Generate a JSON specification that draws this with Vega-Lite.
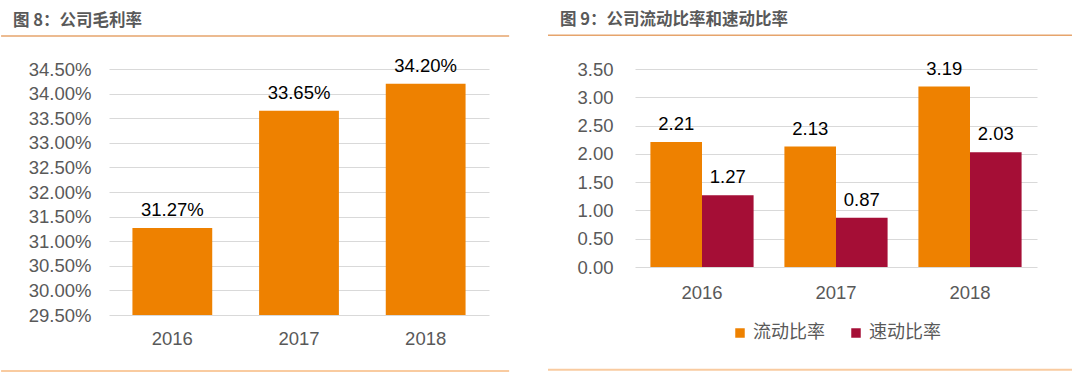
{
  "$schema": "https://vega.github.io/schema/vega-lite/v6.json",
  "background": "white",
  "padding": {"left": 0, "top": 12, "right": 0, "bottom": 0},
  "config": {
    "view": {"stroke": null},
    "axis": {"domain": false, "ticks": false, "grid": false, "labelColor": "#595959", "labelFont": "Liberation Sans", "labelFontSize": 18.5, "labelOverlap": false, "title": null, "gridColor": "#D9D9D9", "gridWidth": 1.2},
    "legend": {"layout": {"bottom": {"anchor": "middle"}}},
    "title": {"font": "Noto Sans CJK SC", "fontSize": 16.5, "fontWeight": "bold", "color": "#595959", "anchor": "start", "frame": "bounds", "dx": 13, "offset": 6},
    "concat": {"spacing": 36}
  },
  "resolve": {"legend": {"color": "independent"}},
  "hconcat": [
    {
      "title": "图 8：公司毛利率",
      "width": 380,
      "height": 246,
      "layer": [
        {
          "data": {"values": [
            {"year": "2016", "margin": 0.3127},
            {"year": "2017", "margin": 0.3365},
            {"year": "2018", "margin": 0.3420}
          ]},
          "encoding": {
            "x": {"field": "year", "type": "nominal", "scale": {"paddingInner": 0.37, "paddingOuter": 0.185}, "axis": {"labelAngle": 0, "labelPadding": 14}},
            "y": {"field": "margin", "type": "quantitative", "scale": {"domain": [0.295, 0.345], "nice": false, "zero": false}, "axis": {"format": ".2%", "grid": true, "values": [0.295, 0.3, 0.305, 0.31, 0.315, 0.32, 0.325, 0.33, 0.335, 0.34, 0.345], "labelPadding": 18}}
          },
          "layer": [
            {"mark": {"type": "bar", "color": "#EE8100"}, "encoding": {"y2": {"datum": 0.295}}},
            {"mark": {"type": "text", "dy": -12, "baseline": "alphabetic", "font": "Liberation Sans", "fontSize": 18.5, "color": "#000000"}, "encoding": {"text": {"field": "margin", "type": "quantitative", "format": ".2%"}}}
          ]
        },
        {
          "data": {"values": [{"line": "top"}]},
          "mark": {"type": "rule", "color": "#E6A46C", "strokeWidth": 1.5},
          "encoding": {
            "x": {"datum": -0.284, "type": "quantitative", "scale": {"domain": [0, 1]}, "axis": null},
            "x2": {"datum": 1.053},
            "y": {"datum": 0.35171, "type": "quantitative", "axis": {"format": ".2%", "grid": true, "values": [0.295, 0.3, 0.305, 0.31, 0.315, 0.32, 0.325, 0.33, 0.335, 0.34, 0.345], "labelPadding": 18}}
          }
        },
        {
          "data": {"values": [{"line": "bottom"}]},
          "mark": {"type": "rule", "color": "#F9CBA0", "strokeWidth": 2},
          "encoding": {
            "x": {"datum": -0.284, "type": "quantitative", "scale": {"domain": [0, 1]}, "axis": null},
            "x2": {"datum": 1.053},
            "y": {"datum": 0.28362, "type": "quantitative", "axis": {"format": ".2%", "grid": true, "values": [0.295, 0.3, 0.305, 0.31, 0.315, 0.32, 0.325, 0.33, 0.335, 0.34, 0.345], "labelPadding": 18}}
          }
        }
      ],
      "resolve": {"scale": {"x": "independent"}, "axis": {"x": "independent"}}
    },
    {
      "title": "图 9：公司流动比率和速动比率",
      "width": 402,
      "height": 198,
      "layer": [
        {
          "data": {"values": [
            {"year": "2016", "type": "流动比率", "value": 2.21},
            {"year": "2016", "type": "速动比率", "value": 1.27},
            {"year": "2017", "type": "流动比率", "value": 2.13},
            {"year": "2017", "type": "速动比率", "value": 0.87},
            {"year": "2018", "type": "流动比率", "value": 3.19},
            {"year": "2018", "type": "速动比率", "value": 2.03}
          ]},
          "encoding": {
            "x": {"field": "year", "type": "nominal", "scale": {"paddingInner": 0.23, "paddingOuter": 0.115}, "axis": {"labelAngle": 0, "labelPadding": 16}},
            "xOffset": {"field": "type", "type": "nominal", "sort": ["流动比率", "速动比率"], "scale": {"paddingInner": 0, "paddingOuter": 0}},
            "y": {"field": "value", "type": "quantitative", "scale": {"domain": [0, 3.5], "nice": false}, "axis": {"format": ".2f", "grid": true, "values": [0, 0.5, 1, 1.5, 2, 2.5, 3, 3.5], "labelPadding": 22}}
          },
          "layer": [
            {
              "mark": {"type": "bar"},
              "encoding": {
                "color": {"field": "type", "type": "nominal", "sort": ["流动比率", "速动比率"], "scale": {"domain": ["流动比率", "速动比率"], "range": ["#EE8100", "#A50E36"]},
                  "legend": {"orient": "bottom", "title": null, "symbolType": "square", "symbolSize": 90, "symbolStrokeWidth": 0, "labelFont": "Noto Sans CJK SC", "labelFontSize": 18, "labelColor": "#595959", "columnPadding": 22, "labelOffset": 4, "offset": 22}}
              }
            },
            {"mark": {"type": "text", "dy": -12, "baseline": "alphabetic", "font": "Liberation Sans", "fontSize": 18.5, "color": "#000000"}, "encoding": {"text": {"field": "value", "type": "quantitative", "format": ".2f"}}}
          ]
        },
        {
          "data": {"values": [{"line": "top"}]},
          "mark": {"type": "rule", "color": "#E6A46C", "strokeWidth": 1.5},
          "encoding": {
            "x": {"datum": -0.2164, "type": "quantitative", "scale": {"domain": [0, 1]}, "axis": null},
            "x2": {"datum": 1.087},
            "y": {"datum": 4.095, "type": "quantitative", "axis": {"format": ".2f", "grid": true, "values": [0, 0.5, 1, 1.5, 2, 2.5, 3, 3.5], "labelPadding": 22}}
          }
        },
        {
          "data": {"values": [{"line": "bottom"}]},
          "mark": {"type": "rule", "color": "#F9CBA0", "strokeWidth": 2},
          "encoding": {
            "x": {"datum": -0.2164, "type": "quantitative", "scale": {"domain": [0, 1]}, "axis": null},
            "x2": {"datum": 1.087},
            "y": {"datum": -1.818, "type": "quantitative", "axis": {"format": ".2f", "grid": true, "values": [0, 0.5, 1, 1.5, 2, 2.5, 3, 3.5], "labelPadding": 22}}
          }
        }
      ],
      "resolve": {"scale": {"x": "independent"}, "axis": {"x": "independent"}}
    }
  ]
}
